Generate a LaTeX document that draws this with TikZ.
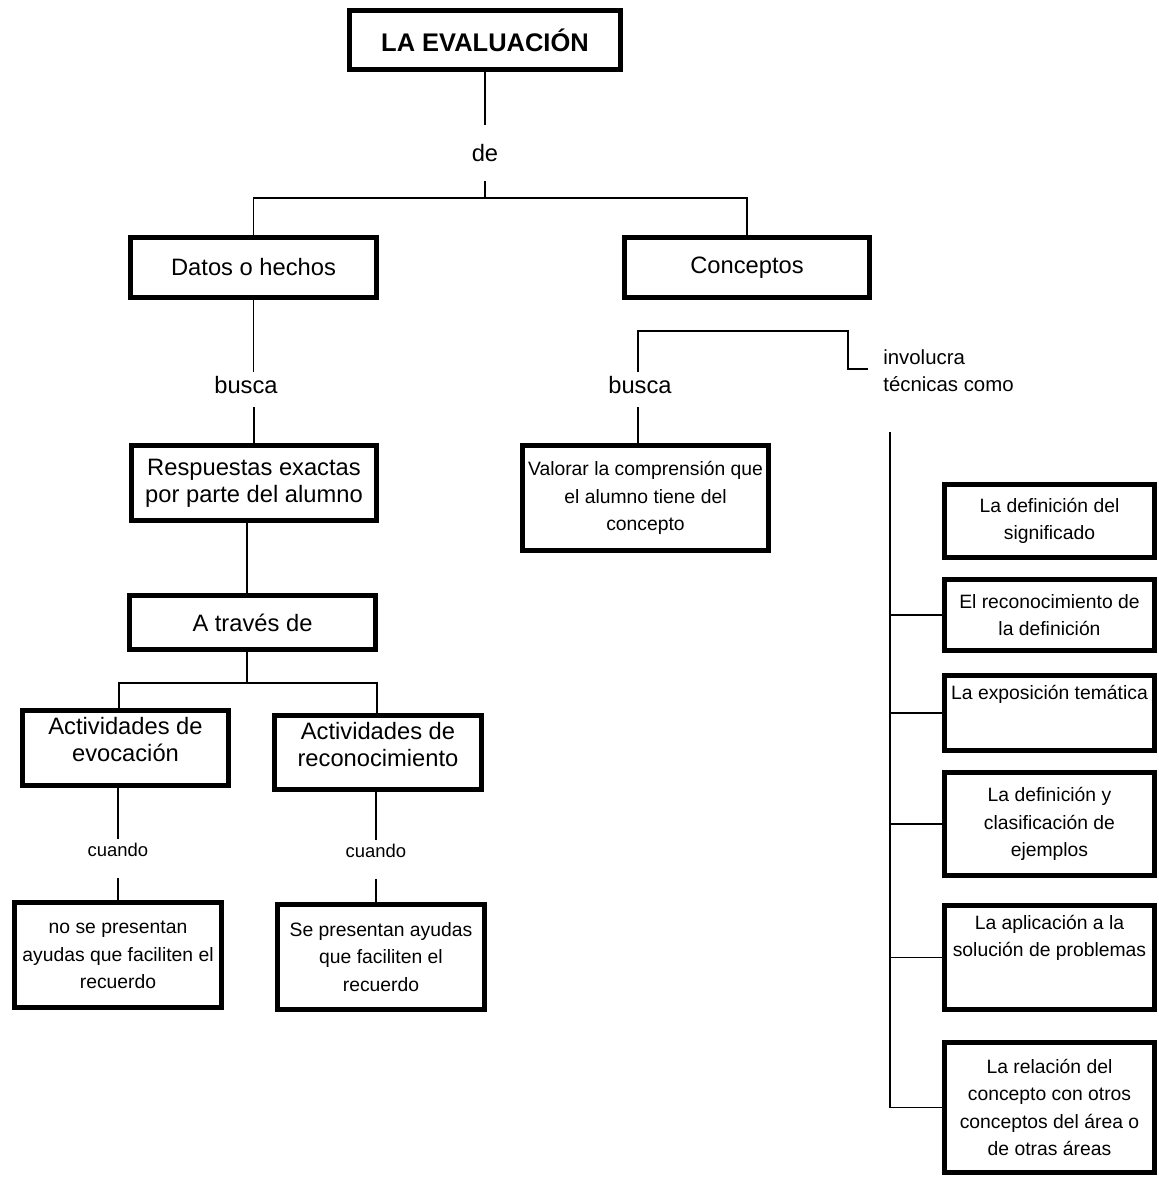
\documentclass[tikz,border=0pt]{standalone}
\usepackage{fontspec}
\setmainfont{Liberation Sans}
\usetikzlibrary{positioning,calc}

\begin{document}
\begin{tikzpicture}[x=0.02cm, y=-0.02cm]
  % Estilos del mapa conceptual
  \tikzset{
    caja/.style={draw, line width=2.8pt, inner sep=1pt, align=center},
    grande/.style={font=\fontsize{13.5}{15.3}\selectfont},
    chica/.style={font=\fontsize{11}{15.7}\selectfont},
    enlace/.style={inner xsep=1pt, inner ysep=2.4pt},
    linea/.style={line width=1.1pt}
  }
  \useasboundingbox (0,0) rectangle (1159,1178);

  % --- Nodo principal ---
  \node[caja, line width=3.2pt, minimum width=5.42cm, minimum height=1.18cm,
        font=\fontsize{14.5}{17}\selectfont\bfseries] (eval) at (485,40) {LA EVALUACIÓN};
  \node[grande, inner xsep=1pt, inner ysep=10.8pt] (de) at (485,153) {de};

  % --- Primer nivel ---
  \node[caja, grande, minimum width=4.92cm, minimum height=1.20cm] (datos) at (253.5,267.5) {Datos o hechos};
  \node[caja, grande, minimum width=4.90cm, minimum height=1.20cm] (conceptos) at (747,267.5) {Conceptos};

  % --- Rama izquierda: datos o hechos ---
  \node[grande, enlace] (busca1) at (246,385) {busca};
  \node[caja, grande, minimum width=4.90cm, minimum height=1.50cm] (resp) at (254,483) {Respuestas exactas\\por parte del alumno};
  \node[caja, grande, minimum width=4.92cm, minimum height=1.08cm] (atraves) at (252.5,622.5) {A través de};
  \node[caja, grande, minimum width=4.12cm, minimum height=1.50cm] (evoc) at (125.5,748) {Actividades de\\evocación\\[-6pt]\mbox{}};
  \node[caja, grande, minimum width=4.14cm, minimum height=1.48cm] (recon) at (378,752.5) {Actividades de\\reconocimiento\\[-6pt]\mbox{}};
  \node[enlace, font=\fontsize{10.5}{12}\selectfont] (cuando1) at (118,850) {cuando};
  \node[enlace, font=\fontsize{10.5}{12}\selectfont] (cuando2) at (376,851) {cuando};
  \node[caja, chica, minimum width=4.14cm, minimum height=2.10cm] (nosep) at (118,955) {no se presentan\\ayudas que faciliten el\\recuerdo};
  \node[caja, chica, minimum width=4.14cm, minimum height=2.10cm] (sep) at (381,957) {Se presentan ayudas\\que faciliten el\\recuerdo};

  % --- Rama derecha: conceptos ---
  \node[grande, enlace] (busca2) at (640,385) {busca};
  \node[caja, chica, minimum width=4.92cm, minimum height=2.10cm] (valorar) at (645.5,498) {Valorar la comprensión que\\el alumno tiene del\\concepto};
  \node[font=\fontsize{11.6}{15.3}\selectfont, align=left, anchor=west, inner sep=0pt] (involucra) at (883,371) {involucra\\técnicas como};

  % Técnicas (columna derecha)
  \node[caja, chica, minimum width=4.20cm, minimum height=1.46cm] (r1) at (1049.5,521) {La definición del\\significado};
  \node[caja, chica, minimum width=4.20cm, minimum height=1.42cm] (r2) at (1049.5,615) {El reconocimiento de\\la definición};
  \node[caja, chica, minimum width=4.20cm, minimum height=1.50cm] (r3) at (1049.5,713) {La exposición temática\\[8pt]\mbox{}};
  \node[caja, chica, minimum width=4.20cm, minimum height=2.06cm] (r4) at (1049.5,824) {La definición y\\clasificación de\\ejemplos};
  \node[caja, chica, minimum width=4.20cm, minimum height=2.08cm] (r5) at (1049.5,957.5) {La aplicación a la\\solución de problemas\\[9pt]\mbox{}};
  \node[caja, chica, minimum width=4.20cm, minimum height=2.60cm] (r6) at (1049.5,1107.5) {La relación del\\concepto con otros\\conceptos del área o\\de otras áreas};

  % --- Puntos de unión ---
  \coordinate (j1) at (485,198);
  \coordinate (j2) at (247,683);
  \coordinate (l1) at (119,683);
  \coordinate (l2) at (377,683);
  \coordinate (k1) at (638,331);
  \coordinate (k2) at (848,331);
  \coordinate (k3) at (868,369);
  \coordinate (t0) at (890,432);

  % --- Conectores ---
  \draw[linea] (eval) -- (de);
  \draw[linea] (de) -- (j1);
  \draw[linea] (datos.north) |- (j1) -| (conceptos.north);

  \draw[linea] (datos.south) -- (datos.south |- busca1.north);
  \draw[linea, shorten <=5pt] (resp.north |- busca1.south) -- (resp.north);
  \draw[linea] (resp.south -| j2) -- (atraves.north -| j2);
  \draw[linea] (atraves.south -| j2) -- (j2);
  \draw[linea] (evoc.north -| l1) -- (l1) -- (l2) -- (recon.north -| l2);

  \draw[linea] (cuando1.north |- evoc.south) -- (cuando1.north);
  \draw[linea, shorten <=9.5pt] (cuando1.south) -- (cuando1.south |- nosep.north);
  \draw[linea] (cuando2.north |- recon.south) -- (cuando2.north);
  \draw[linea, shorten <=9.5pt] (cuando2.south) -- (cuando2.south |- sep.north);

  \draw[linea] (busca2.north -| k1) -- (k1) -- (k2) |- (k3);
  \draw[linea, shorten <=5pt] (busca2.south -| k1) -- (k1 |- valorar.north);

  \draw[linea] (t0) |- (r6.west);
  \foreach \t in {r2,r3,r4,r5}
    \draw[linea] (t0 |- \t.west) -- (\t.west);

\end{tikzpicture}
\end{document}
